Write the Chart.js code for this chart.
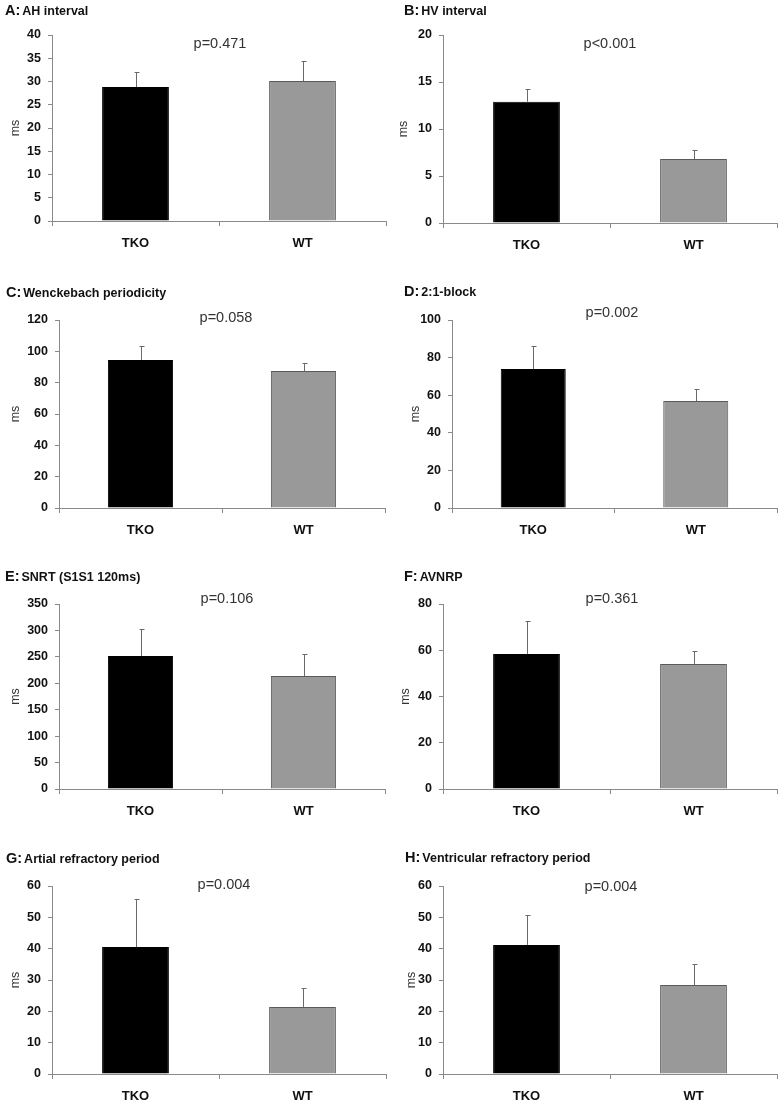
<!DOCTYPE html>
<html>
<head>
<meta charset="utf-8">
<script src="https://cdn.jsdelivr.net/npm/chart.js@4.4.1/dist/chart.umd.min.js"></script>
<style>
  html, body { margin: 0; padding: 0; background: #fff; }
  #wrap { position: relative; width: 781px; height: 1102px; overflow: hidden; }
  #wrap canvas { position: absolute; }
</style>
</head>
<body>
<div id="wrap"></div>
<script>
// data
const panelLetters = ['A', 'B', 'C', 'D', 'E', 'F', 'G', 'H'];
const panelTitles = ['AH interval', 'HV interval', 'Wenckebach periodicity', '2:1-block',
  'SNRT (S1S1 120ms)', 'AVNRP', 'Artial refractory period', 'Ventricular refractory period'];
const pLabels = ['p=0.471', 'p<0.001', 'p=0.058', 'p=0.002', 'p=0.106', 'p=0.361', 'p=0.004', 'p=0.004'];
const groups = ['TKO', 'WT'];
const tkoMeans = [28.8, 12.9, 94.5, 73.9, 251.6, 58.4, 40.5, 41.2];
const tkoErrors = [3.2, 1.4, 8.9, 12.3, 51.1, 14.2, 15.4, 9.5];
const wtMeans = [30.1, 6.8, 87.4, 56.9, 213.8, 54.1, 21.4, 28.4];
const wtErrors = [4.3, 1.0, 5.2, 6.4, 41.6, 5.6, 6.0, 6.7];
const yMax = [40, 20, 120, 100, 350, 80, 60, 60];
const yStep = [5, 5, 20, 20, 50, 20, 10, 10];
const yUnit = 'ms';

// page layout (pixels on the page)
const LAYOUT = [
  { left: 0,   w: 390, axisX: 52,  top: 35,  bottom: 221,  right: 386, titleX: 5,   titleY: 11,  pX: 220, pY: 44,  msX: 15 },
  { left: 390, w: 391, axisX: 443, top: 35,  bottom: 223,  right: 777, titleX: 404, titleY: 11,  pX: 610, pY: 44,  msX: 13 },
  { left: 0,   w: 390, axisX: 59,  top: 320, bottom: 508,  right: 385, titleX: 6,   titleY: 293, pX: 226, pY: 318, msX: 15 },
  { left: 390, w: 391, axisX: 452, top: 320, bottom: 508,  right: 777, titleX: 404, titleY: 292, pX: 612, pY: 313, msX: 25 },
  { left: 0,   w: 390, axisX: 59,  top: 604, bottom: 789,  right: 385, titleX: 5,   titleY: 577, pX: 227, pY: 599, msX: 15 },
  { left: 390, w: 391, axisX: 443, top: 604, bottom: 789,  right: 777, titleX: 404, titleY: 577, pX: 612, pY: 599, msX: 15 },
  { left: 0,   w: 390, axisX: 52,  top: 886, bottom: 1074, right: 386, titleX: 6,   titleY: 859, pX: 224, pY: 885, msX: 15 },
  { left: 390, w: 391, axisX: 443, top: 886, bottom: 1074, right: 777, titleX: 405, titleY: 858, pX: 611, pY: 887, msX: 21 },
];

const FONT = "'Liberation Sans', Arial, sans-serif";
const AXIS_GREY = '#8a8a8a';
const TOP_PAD = 35;
const X_AXIS_H = 40;

Chart.defaults.font.family = FONT;
Chart.defaults.animation = false;

// upward error bars with a small cap
const errorBars = {
  id: 'errorBars',
  afterDatasetsDraw(chart) {
    const ctx = chart.ctx;
    const ys = chart.scales.y;
    chart.data.datasets.forEach((ds, di) => {
      chart.getDatasetMeta(di).data.forEach((bar, i) => {
        const top = Math.round(ys.getPixelForValue(ds.data[i] + ds.errors[i])) + 0.5;
        const x = Math.round(bar.x) + 0.5;
        ctx.save();
        ctx.strokeStyle = '#6a6a6a';
        ctx.lineWidth = 1;
        ctx.beginPath();
        ctx.moveTo(x, bar.y);
        ctx.lineTo(x, top);
        ctx.moveTo(x - 2, top);
        ctx.lineTo(x + 3, top);
        ctx.stroke();
        ctx.restore();
      });
    });
  },
};

// panel heading ("A: AH interval") and p-value
const panelText = {
  id: 'panelText',
  afterDraw(chart, args, opts) {
    const ctx = chart.ctx;
    ctx.save();
    ctx.textBaseline = 'middle';
    ctx.fillStyle = '#111';
    ctx.font = `bold 14.5px ${FONT}`;
    const head = opts.letter + ':';
    ctx.fillText(head, opts.titleX, opts.titleY);
    const w = ctx.measureText(head).width;
    ctx.font = `bold 12.5px ${FONT}`;
    ctx.fillText(opts.title, opts.titleX + w + 2, opts.titleY + 1);
    ctx.font = `14.5px ${FONT}`;
    ctx.fillStyle = '#333';
    ctx.textAlign = 'center';
    ctx.fillText(opts.p, opts.pX, opts.pY);
    ctx.restore();
  },
};

const wrap = document.getElementById('wrap');

panelLetters.forEach((letter, k) => {
  const L = LAYOUT[k];
  const cTop = L.top - TOP_PAD;
  const cH = L.bottom - cTop + X_AXIS_H;

  const canvas = document.createElement('canvas');
  canvas.width = L.w;
  canvas.height = cH;
  canvas.style.left = L.left + 'px';
  canvas.style.top = cTop + 'px';
  canvas.style.width = L.w + 'px';
  canvas.style.height = cH + 'px';
  wrap.appendChild(canvas);

  new Chart(canvas, {
    type: 'bar',
    data: {
      labels: groups,
      datasets: [{
        data: [tkoMeans[k], wtMeans[k]],
        errors: [tkoErrors[k], wtErrors[k]],
        backgroundColor: ['#000000', '#999999'],
        borderColor: ['#000000', '#5a5a5a'],
        borderWidth: 1,
        barPercentage: 0.4,
        categoryPercentage: 1,
      }],
    },
    options: {
      responsive: false,
      devicePixelRatio: 1,
      layout: { padding: { top: TOP_PAD, left: 0, right: L.w - (L.right - L.left), bottom: 0 } },
      plugins: {
        legend: { display: false },
        tooltip: { enabled: false },
        panelText: {
          letter, title: panelTitles[k], p: pLabels[k],
          titleX: L.titleX - L.left, titleY: L.titleY - cTop,
          pX: L.pX - L.left, pY: L.pY - cTop,
        },
      },
      scales: {
        x: {
          afterFit: (s) => { s.height = X_AXIS_H; },
          border: { color: AXIS_GREY, width: 1 },
          grid: { offset: true, drawOnChartArea: false, drawTicks: true, tickLength: 5, color: AXIS_GREY },
          ticks: { color: '#111', font: { size: 13, weight: 'bold' }, padding: 10 },
        },
        y: {
          min: 0,
          max: yMax[k],
          afterFit: (s) => { s.width = L.axisX - L.left; },
          border: { color: AXIS_GREY, width: 1 },
          grid: { drawOnChartArea: false, drawTicks: true, tickLength: 4, color: AXIS_GREY },
          ticks: { stepSize: yStep[k], color: '#111', font: { size: 12.5, weight: 'bold' }, padding: 7 },
          title: {
            display: true, text: yUnit, color: '#333',
            font: { size: 12.5 }, padding: { top: L.msX - 7, bottom: 0 },
          },
        },
      },
    },
    plugins: [errorBars, panelText],
  });
});
</script>
</body>
</html>
